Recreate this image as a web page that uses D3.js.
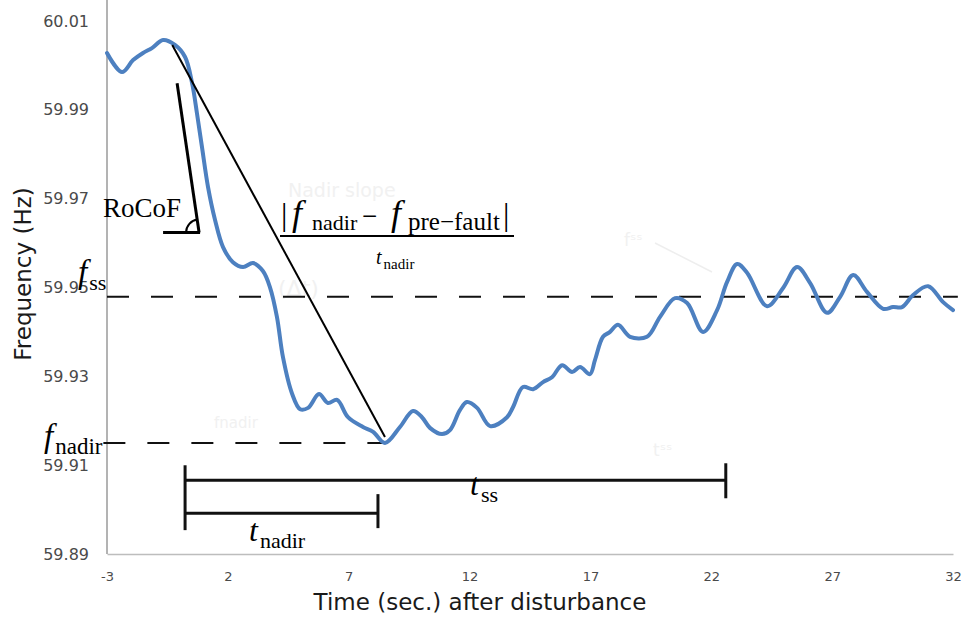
<!DOCTYPE html>
<html>
<head>
<meta charset="utf-8">
<script src="https://cdn.jsdelivr.net/npm/d3@7"></script>
<style>
  body { margin: 0; background: #fff; }
  svg { display: block; }
</style>
</head>
<body>
<svg id="drawing_region"></svg>
<script>
// frequency trace after the disturbance (sec., Hz)
const times = [-3.00, -2.38, -1.92, -1.51, -1.14, -0.68, -0.19, 0.23, 0.52, 0.72,
    0.93, 1.18, 1.47, 1.80, 2.21, 2.63, 3.04, 3.45, 3.74, 4.03,
    4.28, 4.65, 4.99, 5.32, 5.77, 6.14, 6.52, 6.97, 7.59, 8.01,
    8.50, 9.12, 9.66, 10.03, 10.36, 10.86, 11.19, 11.60, 11.89, 12.31,
    12.85, 13.55, 13.80, 14.21, 14.63, 15.04, 15.41, 15.83, 16.24, 16.57,
    16.98, 17.19, 17.52, 17.81, 18.14, 18.64, 19.34, 19.88, 20.50, 21.00,
    21.66, 22.24, 22.65, 23.07, 23.48, 24.31, 24.97, 25.55, 26.09, 26.79,
    27.33, 27.87, 28.44, 29.11, 29.52, 29.89, 30.35, 30.97, 31.59, 32.00];
const freqs = [60.0028, 59.9985, 60.0012, 60.0028, 60.0039, 60.0057, 60.0046, 60.0019, 59.9960, 59.9893,
    59.9816, 59.9726, 59.9652, 59.9591, 59.9557, 59.9546, 59.9555, 59.9537, 59.9501, 59.9434,
    59.9343, 59.9262, 59.9226, 59.9229, 59.9260, 59.9240, 59.9247, 59.9208, 59.9186, 59.9175,
    59.9150, 59.9186, 59.9222, 59.9208, 59.9184, 59.9170, 59.9179, 59.9224, 59.9242, 59.9229,
    59.9188, 59.9208, 59.9231, 59.9276, 59.9271, 59.9287, 59.9298, 59.9325, 59.9310, 59.9321,
    59.9305, 59.9337, 59.9389, 59.9400, 59.9416, 59.9389, 59.9389, 59.9434, 59.9476, 59.9465,
    59.9400, 59.9449, 59.9512, 59.9553, 59.9533, 59.9458, 59.9499, 59.9546, 59.9510, 59.9443,
    59.9479, 59.9528, 59.9490, 59.9452, 59.9456, 59.9456, 59.9483, 59.9503, 59.9467, 59.9449];

const xTicks = [-3, 2, 7, 12, 17, 22, 27, 32];
const yTicks = [59.89, 59.91, 59.93, 59.95, 59.97, 59.99, 60.01];

// reference levels and times used by the annotations
const fSteady = 59.9479;
const nadirPoint = [8.50, 59.9150];
const slopeStart = [-0.30, 60.0046];
const rocofLine = [[-0.10, 59.9960], [0.81, 59.9624]];
const rocofBase = [-0.68, 0.85];
const tStart = 0.23;
const tNadirEnd = 8.21;
const tSsEnd = 22.6;
const bracketSs = 59.9066;
const bracketNadir = 59.8992;

const width = 964, height = 620;
const svg = d3.select('#drawing_region')
    .attr('width', width)
    .attr('height', height);

const x = d3.scaleLinear().domain([-3, 32]).range([107, 953]);
const y = d3.scaleLinear().domain([59.89, 60.01]).range([554, 21]);

const sans = '"DejaVu Sans", Verdana, sans-serif';
const serif = '"Liberation Serif", "Times New Roman", serif';

// faint leftover labels behind the plot
const ghost = svg.append('g').attr('fill', '#f1f1f1').style('font-family', sans);
ghost.append('text').attr('x', 288).attr('y', 197).style('font-size', '19px').text('Nadir slope');
ghost.append('text').attr('x', 278).attr('y', 296).style('font-size', '22px').text('(Δt)');
ghost.append('text').attr('x', 214).attr('y', 428).style('font-size', '15px').text('fnadir');
ghost.append('text').attr('x', 624).attr('y', 246).style('font-size', '17px').text('fˢˢ');
ghost.append('text').attr('x', 653).attr('y', 456).style('font-size', '17px').text('tˢˢ');
ghost.append('line')
    .attr('x1', 655).attr('y1', 243).attr('x2', 712).attr('y2', 272)
    .attr('stroke', '#eeeeee').attr('stroke-width', 1.5);

// axes
const xAxis = d3.axisBottom(x).tickValues(xTicks).tickSize(0).tickPadding(18)
    .tickFormat(d => String(d));
const yAxis = d3.axisLeft(y).tickValues(yTicks).tickSize(0).tickPadding(18)
    .tickFormat(d3.format('.2f'));

const gx = svg.append('g')
    .attr('transform', `translate(0, ${y(59.89)})`)
    .call(xAxis);
gx.select('.domain').attr('stroke', '#bdbdbd').attr('stroke-width', 1.5);
gx.selectAll('text').attr('fill', '#4a4a4a').style('font-family', sans).style('font-size', '13px');

const gy = svg.append('g')
    .attr('transform', `translate(${x(-3)}, 0)`)
    .call(yAxis);
gy.select('.domain').remove();
gy.append('line')
    .attr('y1', 0).attr('y2', y(59.89))
    .attr('stroke', '#9a9a9a').attr('stroke-width', 1.5);
gy.selectAll('text').attr('fill', '#4a4a4a').style('font-family', sans).style('font-size', '16px');

svg.append('text')
    .attr('transform', `translate(31, ${274}) rotate(-90)`)
    .attr('text-anchor', 'middle')
    .attr('fill', '#1a1a1a')
    .style('font-family', sans).style('font-size', '23px')
    .text('Frequency (Hz)');

svg.append('text')
    .attr('x', 480).attr('y', 610)
    .attr('text-anchor', 'middle')
    .attr('fill', '#1a1a1a')
    .style('font-family', sans).style('font-size', '23px')
    .text('Time (sec.) after disturbance');

// dashed reference levels
const dashed = svg.append('g')
    .attr('stroke', '#111').attr('stroke-width', 2)
    .attr('stroke-dasharray', '22,22');
dashed.append('line')
    .attr('x1', x(-3)).attr('x2', x(32.2))
    .attr('y1', y(fSteady)).attr('y2', y(fSteady));
dashed.append('line')
    .attr('x1', x(-3.15)).attr('x2', x(nadirPoint[0]))
    .attr('y1', y(nadirPoint[1])).attr('y2', y(nadirPoint[1]));

// frequency trace
const series = times.map((t, i) => ({ t: t, f: freqs[i] }));
const line = d3.line()
    .x(d => x(d.t))
    .y(d => y(d.f))
    .curve(d3.curveCatmullRom.alpha(0.5));

svg.append('path')
    .datum(series)
    .attr('d', line)
    .attr('fill', 'none')
    .attr('stroke', '#4d80c0')
    .attr('stroke-width', 4)
    .attr('stroke-linejoin', 'round')
    .attr('stroke-linecap', 'round');

// nadir slope and RoCoF tangent
const ink = svg.append('g').attr('stroke', '#000').attr('fill', 'none');
ink.append('line')
    .attr('x1', x(slopeStart[0])).attr('y1', y(slopeStart[1]))
    .attr('x2', x(nadirPoint[0])).attr('y2', y(nadirPoint[1]) - 6)
    .attr('stroke-width', 2);
ink.append('line')
    .attr('x1', x(rocofLine[0][0])).attr('y1', y(rocofLine[0][1]))
    .attr('x2', x(rocofLine[1][0])).attr('y2', y(rocofLine[1][1]))
    .attr('stroke-width', 3);
ink.append('line')
    .attr('x1', x(rocofBase[0])).attr('x2', x(rocofBase[1]))
    .attr('y1', y(rocofLine[1][1])).attr('y2', y(rocofLine[1][1]))
    .attr('stroke-width', 3);
const cx = x(rocofLine[1][0]), cy = y(rocofLine[1][1]);
ink.append('path')
    .attr('d', d3.arc()({ innerRadius: 13, outerRadius: 13, startAngle: -Math.PI / 2, endAngle: -0.12 }))
    .attr('transform', `translate(${cx}, ${cy})`)
    .attr('stroke-width', 2);

// time brackets
const brackets = svg.append('g').attr('stroke', '#111').attr('stroke-width', 3);
brackets.append('line')
    .attr('x1', x(tStart)).attr('x2', x(tSsEnd))
    .attr('y1', y(bracketSs)).attr('y2', y(bracketSs));
brackets.append('line')
    .attr('x1', x(tStart)).attr('x2', x(tNadirEnd))
    .attr('y1', y(bracketNadir)).attr('y2', y(bracketNadir));
brackets.append('line')
    .attr('x1', x(tStart)).attr('x2', x(tStart))
    .attr('y1', y(bracketSs) - 15).attr('y2', y(bracketNadir) + 17);
brackets.append('line')
    .attr('x1', x(tSsEnd)).attr('x2', x(tSsEnd))
    .attr('y1', y(bracketSs) - 17).attr('y2', y(bracketSs) + 18);
brackets.append('line')
    .attr('x1', x(tNadirEnd)).attr('x2', x(tNadirEnd))
    .attr('y1', y(bracketNadir) - 19).attr('y2', y(bracketNadir) + 15);

// math labels
const label = (px, py, main, sub, mainSize, subSize, italic) => {
    const t = svg.append('text')
        .attr('x', px).attr('y', py)
        .attr('fill', '#000')
        .style('font-family', serif);
    t.append('tspan')
        .style('font-size', mainSize + 'px')
        .style('font-style', italic ? 'italic' : 'normal')
        .text(main);
    if (sub) {
        t.append('tspan')
            .attr('dx', 2).attr('dy', subSize * 0.3)
            .style('font-size', subSize + 'px')
            .text(sub);
    }
    return t;
};

label(103, 217, 'RoCoF', null, 27, 0, false);
label(78, 283, 'f', 'ss', 33, 22, true);
label(44, 447, 'f', 'nadir', 33, 23, true);
label(470, 495, 't', 'ss', 32, 22, true);
label(249, 541, 't', 'nadir', 32, 22, true);

// nadir slope fraction, pieces placed left to right
const num = svg.append('text')
    .attr('y', 225)
    .attr('fill', '#000')
    .style('font-family', serif);
const numParts = [
    { x: 281, text: '|', size: 32, dy: 0 },
    { x: 292, text: 'f', size: 36, dy: 0, italic: true },
    { x: 312, text: 'nadir', size: 22, dy: 5 },
    { x: 362, text: '−', size: 27, dy: 0 },
    { x: 391, text: 'f', size: 36, dy: 0, italic: true },
    { x: 408, text: 'pre−fault', size: 25, dy: 5 },
    { x: 503, text: '|', size: 32, dy: 0 }
];
numParts.forEach(p => {
    num.append('tspan')
        .attr('x', p.x).attr('y', 225 + p.dy)
        .style('font-size', p.size + 'px')
        .style('font-style', p.italic ? 'italic' : 'normal')
        .text(p.text);
});

svg.append('line')
    .attr('x1', 280).attr('x2', 514).attr('y1', 236).attr('y2', 236)
    .attr('stroke', '#000').attr('stroke-width', 2);

label(376, 264, 't', 'nadir', 20, 15, true);
</script>
</body>
</html>
